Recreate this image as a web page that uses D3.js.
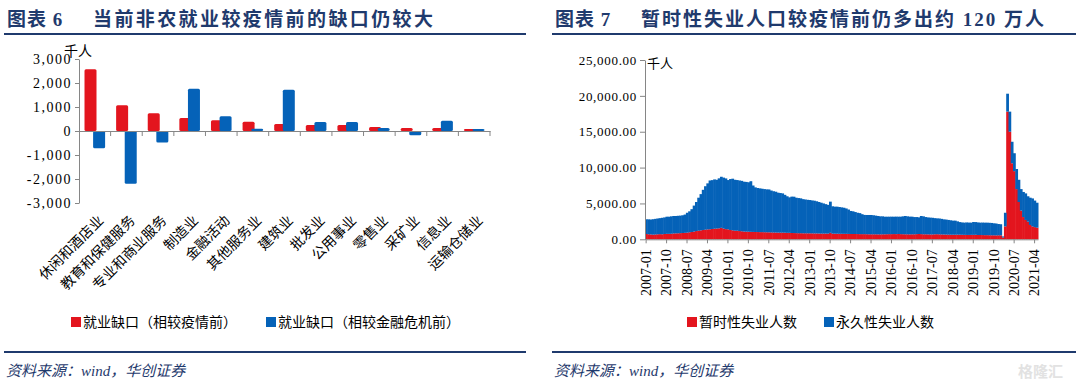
<!DOCTYPE html>
<html>
<head>
<meta charset="utf-8">
<script src="https://cdn.jsdelivr.net/npm/d3@7"></script>
<style>
body { margin: 0; background: #fff; }
svg { display: block; }
text { font-family: "Liberation Serif", "Noto Sans CJK SC", serif; }
.axis path, .axis line { stroke: #868686; }
.axis text { fill: #000; }
</style>
</head>
<body>
<svg class="chart"></svg>
<script>
// left: 非农就业缺口 (千人)
var sectors = ["休闲和酒店业", "教育和保健服务", "专业和商业服务", "制造业", "金融活动", "其他服务业",
  "建筑业", "批发业", "公用事业", "零售业", "采矿业", "信息业", "运输仓储业"];
var gapVsCovid = [2570, 1070, 740, 540, 450, 390, 290, 250, 250, 170, 125, 125, 85];
var gapVsGfc = [-720, -2200, -480, 1760, 610, 90, 1720, 375, 375, 125, -180, 430, 85];
var leftTicks = [-3000, -2000, -1000, 0, 1000, 2000, 3000];

// right: 暂时性 / 永久性失业人数 (千人), monthly 2007-01 .. 2021-05
var tempLayoff = [
  740, 700, 680, 650, 680, 700, 720, 700, 740, 760, 760, 780,
  820, 830, 840, 860, 880, 900, 930, 980, 1020, 1080, 1150, 1200,
  1250, 1300, 1350, 1380, 1400, 1440, 1480, 1500, 1530, 1600, 1500, 1420,
  1390, 1300, 1250, 1200, 1200, 1150, 1120, 1080, 1070, 1060, 1040, 1030,
  1020, 1010, 1000, 1000, 990, 980, 975, 960, 950, 940, 930, 930,
  930, 920, 900, 900, 880, 870, 860, 850, 850, 840, 840, 835,
  835, 830, 820, 820, 810, 800, 800, 800, 790, 900, 790, 780,
  780, 770, 770, 760, 760, 750, 742, 740, 740, 730, 720, 720,
  720, 710, 700, 700, 700, 700, 690, 690, 700, 700, 710, 720,
  720, 730, 720, 740, 720, 710, 700, 700, 690, 700, 700, 720,
  740, 720, 700, 700, 690, 680, 680, 700, 710, 690, 680, 670,
  660, 650, 640, 640, 640, 650, 640, 630, 620, 610, 610, 620,
  620, 630, 600, 600, 590, 580, 580, 570, 560, 560, 550, 560,
  560, 250, 1800, 17800, 15000, 10600, 9500, 7000, 5200, 4000, 3100, 2700,
  2450, 2000, 1800, 1700, 1620
];
var permLoss = [
  2050, 2080, 2080, 2150, 2170, 2200, 2230, 2300, 2310, 2390, 2390, 2420,
  2430, 2420, 2440, 2440, 2470, 2550, 2770, 2920, 3180, 3620, 4050, 4600,
  5050, 5600, 6050, 6420, 6800, 6810, 6870, 6800, 6970, 7120, 7100, 7070,
  6870, 7100, 7200, 7100, 7060, 7050, 7030, 6950, 6930, 6890, 7060, 6470,
  6220, 6140, 6100, 6050, 6010, 5980, 5975, 5840, 5750, 5695, 5570, 5520,
  5470, 5280, 5100, 4950, 5070, 5070, 4940, 4900, 4860, 4760, 4710, 4670,
  4640, 4590, 4560, 4480, 4390, 4300, 4200, 4100, 4010, 4350, 3810, 3770,
  3770, 3730, 3680, 3640, 3540, 3400, 3210, 3160, 3060, 2970, 2930, 2780,
  2680, 2680, 2690, 2690, 2650, 2600, 2560, 2510, 2500, 2450, 2440, 2430,
  2435, 2420, 2440, 2410, 2435, 2490, 2550, 2500, 2470, 2455, 2400, 2380,
  2320, 2530, 2500, 2400, 2360, 2340, 2320, 2250, 2210, 2210, 2170, 2110,
  2090, 2050, 2010, 1960, 1960, 1850, 1760, 1720, 1700, 1740, 1720, 1700,
  1790, 1770, 1750, 1720, 1740, 1740, 1740, 1730, 1720, 1670, 1650, 1570,
  1540, 150, 1900, 2500, 2800, 3000, 2500, 2800, 3100, 3000, 3500, 3700,
  3550, 3800, 3900, 3700, 3480
];
var monthTicks = ["2007-01", "2007-10", "2008-07", "2009-04", "2010-01", "2010-10", "2011-07",
  "2012-04", "2013-01", "2013-10", "2014-07", "2015-04", "2016-01", "2016-10", "2017-07",
  "2018-04", "2019-01", "2019-10", "2020-07", "2021-04"];
var rightTicks = [0, 5000, 10000, 15000, 20000, 25000];

var red = "#e3151e", blue = "#0562b8", navy = "#1f3a6d";

var fmt = d3.formatLocale({decimal: ".", thousands: ",", grouping: [3], currency: ["", ""], minus: "-"});

var svg = d3.select(".chart")
    .attr("width", 1080)
    .attr("height", 387);

// ---------- frame: titles, rules, source ----------
function header(x0, x1, num, title, spacing) {
  var t = svg.append("text")
      .attr("x", x0 + 3)
      .attr("y", 26)
      .attr("fill", navy)
      .style("font-size", "19px")
      .style("font-weight", "bold")
      .style("letter-spacing", "1px");
  t.append("tspan").text("图表 " + num);
  t.append("tspan").attr("x", x0 + 89).style("letter-spacing", spacing).text(title);
  svg.append("line")
      .attr("x1", x0).attr("x2", x1)
      .attr("y1", 34).attr("y2", 34)
      .attr("stroke", navy).attr("stroke-width", 2);
  svg.append("line")
      .attr("x1", x0).attr("x2", x1)
      .attr("y1", 352).attr("y2", 352)
      .attr("stroke", navy).attr("stroke-width", 2);
  svg.append("text")
      .attr("x", x0 + 2)
      .attr("y", 376)
      .attr("fill", navy)
      .style("font-size", "15px")
      .style("font-style", "italic")
      .text("资料来源：wind，华创证券");
}
header(4, 526, "6", "当前非农就业较疫情前的缺口仍较大", "2.4px");
header(552, 1076, "7", "暂时性失业人口较疫情前仍多出约 120 万人", "2px");

svg.append("text")
    .attr("x", 1018).attr("y", 377)
    .attr("fill", "#e2e2e2")
    .style("font-size", "15px")
    .style("font-weight", "bold")
    .text("格隆汇");

// ---------- left chart ----------
var xL = d3.scaleBand()
    .domain(sectors)
    .range([79, 490]);

var yL = d3.scaleLinear()
    .domain([-3000, 3000])
    .range([203, 59]);

var left = svg.append("g");

left.append("g")
    .attr("class", "axis")
    .attr("transform", "translate(79,0)")
    .call(d3.axisLeft(yL).tickValues(leftTicks).tickFormat(fmt.format(",")).tickSize(4).tickSizeOuter(0))
    .selectAll("text")
    .style("font-size", "14px")
    .style("letter-spacing", "1.5px");

var cw = 12;
left.selectAll("rect.covid")
    .data(sectors)
  .enter().append("rect")
    .attr("class", "covid")
    .attr("x", function(d) { return xL(d) + xL.bandwidth() / 2 - 10.3; })
    .attr("y", function(d, i) { return yL(Math.max(0, gapVsCovid[i])); })
    .attr("width", cw)
    .attr("height", function(d, i) { return Math.abs(yL(gapVsCovid[i]) - yL(0)); })
    .attr("rx", 1.5)
    .attr("fill", red);

left.selectAll("rect.gfc")
    .data(sectors)
  .enter().append("rect")
    .attr("class", "gfc")
    .attr("x", function(d) { return xL(d) + xL.bandwidth() / 2 - 1.7; })
    .attr("y", function(d, i) { return yL(Math.max(0, gapVsGfc[i])); })
    .attr("width", cw)
    .attr("height", function(d, i) { return Math.abs(yL(gapVsGfc[i]) - yL(0)); })
    .attr("rx", 1.5)
    .attr("fill", blue);

left.append("g")
    .attr("class", "axis")
    .attr("transform", "translate(0," + yL(0) + ")")
    .call(d3.axisBottom(xL).tickSize(0).tickFormat(""));

left.selectAll("line.sep")
    .data(sectors)
  .enter().append("line")
    .attr("class", "sep")
    .attr("x1", function(d) { return xL(d) + xL.bandwidth(); })
    .attr("x2", function(d) { return xL(d) + xL.bandwidth(); })
    .attr("y1", yL(0))
    .attr("y2", yL(0) + 5)
    .attr("stroke", "#868686");

left.selectAll("text.cat")
    .data(sectors)
  .enter().append("text")
    .attr("class", "cat")
    .attr("transform", function(d) { return "translate(" + (xL(d) + xL.bandwidth() / 2 + 6) + ",218) rotate(-45)"; })
    .attr("text-anchor", "end")
    .attr("dy", "0.35em")
    .style("font-size", "14px")
    .text(function(d) { return d; });

left.append("text")
    .attr("x", 64).attr("y", 56)
    .style("font-size", "14px")
    .text("千人");

function legend(g, x, color, label) {
  g.append("rect")
      .attr("x", x).attr("y", 317)
      .attr("width", 10).attr("height", 10)
      .attr("fill", color);
  g.append("text")
      .attr("x", x + 12).attr("y", 322)
      .attr("dy", "0.35em")
      .style("font-size", "14px")
      .text(label);
}
legend(left, 71, red, "就业缺口（相较疫情前）");
legend(left, 266, blue, "就业缺口（相较金融危机前）");

// ---------- right chart ----------
var fmtMonth = d3.timeFormat("%Y-%m");
var months = d3.timeMonths(new Date(2007, 0, 1), new Date(2021, 5, 1)).map(fmtMonth);

var table = months.map(function(m, i) {
  return {month: m, temp: tempLayoff[i], perm: permLoss[i]};
});

var stack = d3.stack().keys(["temp", "perm"]);
var layers = stack(table);

var xR = d3.scaleBand()
    .domain(months)
    .range([645, 1038]);

var yR = d3.scaleLinear()
    .domain([0, 25000])
    .range([239.3, 60]);

var right = svg.append("g");
var colors = d3.scaleOrdinal().domain(["temp", "perm"]).range([red, blue]);

right.selectAll("g.layer")
    .data(layers)
  .enter().append("g")
    .attr("class", "layer")
    .attr("fill", function(d) { return colors(d.key); })
  .selectAll("rect")
    .data(function(d) { return d; })
  .enter().append("rect")
    .attr("x", function(d) { return xR(d.data.month); })
    .attr("y", function(d) { return yR(d[1]); })
    .attr("width", xR.bandwidth() + 0.5)
    .attr("height", function(d) { return yR(d[0]) - yR(d[1]); });

right.append("g")
    .attr("class", "axis")
    .attr("transform", "translate(645,0)")
    .call(d3.axisLeft(yR).tickValues(rightTicks).tickFormat(fmt.format(",.2f")).tickSize(5).tickSizeOuter(0))
    .selectAll("text")
    .style("font-size", "13px")
    .style("letter-spacing", "0.7px");

var xAxisR = right.append("g")
    .attr("class", "axis")
    .attr("transform", "translate(0," + yR(0) + ")")
    .call(d3.axisBottom(xR).tickValues(monthTicks).tickSize(4).tickSizeOuter(0));

xAxisR.select("path").attr("stroke", "#333");

xAxisR.selectAll("text")
    .attr("x", -10)
    .attr("y", 0)
    .attr("dy", "0.35em")
    .attr("transform", "rotate(-90)")
    .style("text-anchor", "end")
    .style("font-size", "14px");

right.append("text")
    .attr("x", 647).attr("y", 68)
    .style("font-size", "13px")
    .text("千人");

legend(right, 687, red, "暂时性失业人数");
legend(right, 824, blue, "永久性失业人数");
</script>
</body>
</html>
